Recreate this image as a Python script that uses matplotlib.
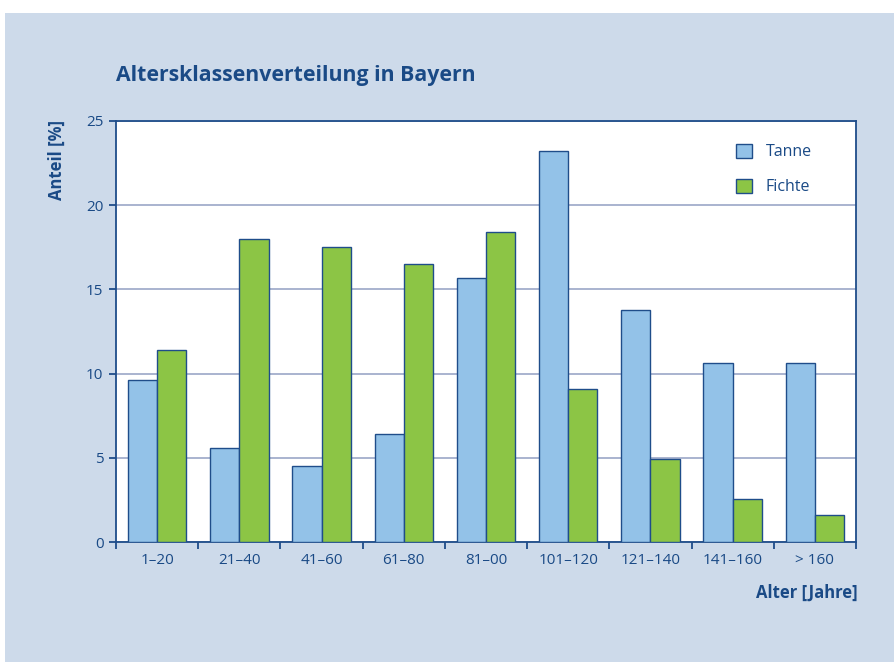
import numpy as np
import matplotlib
matplotlib.use("Agg")
from matplotlib import pyplot as plt
from matplotlib.patches import Rectangle, Patch

plt.rcParams['font.family'] = ['Open Sans', 'DejaVu Sans']

TEXT = '#1a4a86'
EDGE = '#1f4d8a'
BLUE = '#93c2e8'
GREEN = '#8cc545'
GRID = '#a3aecb'
PANEL = '#cddaea'

klassen = ['1–20', '21–40', '41–60', '61–80', '81–00', '101–120', '121–140', '141–160', '> 160']
tanne = [9.6, 5.6, 4.5, 6.4, 15.7, 23.2, 13.8, 10.6, 10.6]
fichte = [11.4, 18.0, 17.5, 16.5, 18.4, 9.1, 4.9, 2.55, 1.6]

fig = plt.figure(figsize=(8.95, 6.62), dpi=100)
fig.patch.set_facecolor('white')
fig.patches.append(Rectangle((5/895, 0), 1, (662-13)/662, transform=fig.transFigure,
                             facecolor=PANEL, edgecolor='none', zorder=-10))

ax = fig.add_axes([116/895, 1-542/662, 740/895, 421/662])
ax.set_facecolor('white')

x = np.arange(len(klassen))
w = 0.355
ax.bar(x - w/2, tanne, w, color=BLUE, edgecolor=EDGE, linewidth=1.0, zorder=3, label='Tanne')
ax.bar(x + w/2, fichte, w, color=GREEN, edgecolor=EDGE, linewidth=1.0, zorder=3, label='Fichte')

ax.set_xlim(-0.5, len(klassen) - 0.5)
ax.set_ylim(0, 25)
ax.set_yticks([0, 5, 10, 15, 20, 25])
ax.yaxis.grid(True, color=GRID, linewidth=1.3, zorder=1)
ax.set_axisbelow(True)
ax.set_xticks(x)
ax.set_xticklabels(klassen)
ax.set_xticks(np.arange(-0.5, len(klassen)), minor=True)
ax.tick_params(axis='x', which='major', length=0, pad=8, labelsize=11, labelcolor=TEXT)
ax.tick_params(axis='x', which='minor', length=5, width=1.3, color=EDGE)
ax.tick_params(axis='y', length=5, width=1.3, color=EDGE, labelsize=11, labelcolor=TEXT, pad=4)
for s in ax.spines.values():
    s.set_color(EDGE)
    s.set_linewidth(1.3)

fig.text(116/895, 1-75/662, 'Altersklassenverteilung in Bayern', fontsize=15.3, fontweight='bold',
         color=TEXT, ha='left', va='center')
fig.text(57/895, 1-120/662, 'Anteil [%]', fontsize=12, fontweight='bold', color=TEXT,
         rotation=90, ha='center', va='top')
fig.text(858/895, 1-593/662, 'Alter [Jahre]', fontsize=12, fontweight='bold', color=TEXT,
         ha='right', va='center')

handles = [Patch(facecolor=BLUE, edgecolor=EDGE, label='Tanne'),
           Patch(facecolor=GREEN, edgecolor=EDGE, label='Fichte')]
ax.legend(handles=handles, loc='upper right', bbox_to_anchor=(0.96, 0.98), frameon=False,
          fontsize=11.5, labelcolor=TEXT, handlelength=1.0, handleheight=1.0,
          labelspacing=1.15, handletextpad=0.9)

fig.savefig('out.png', dpi=100, facecolor=fig.get_facecolor())
